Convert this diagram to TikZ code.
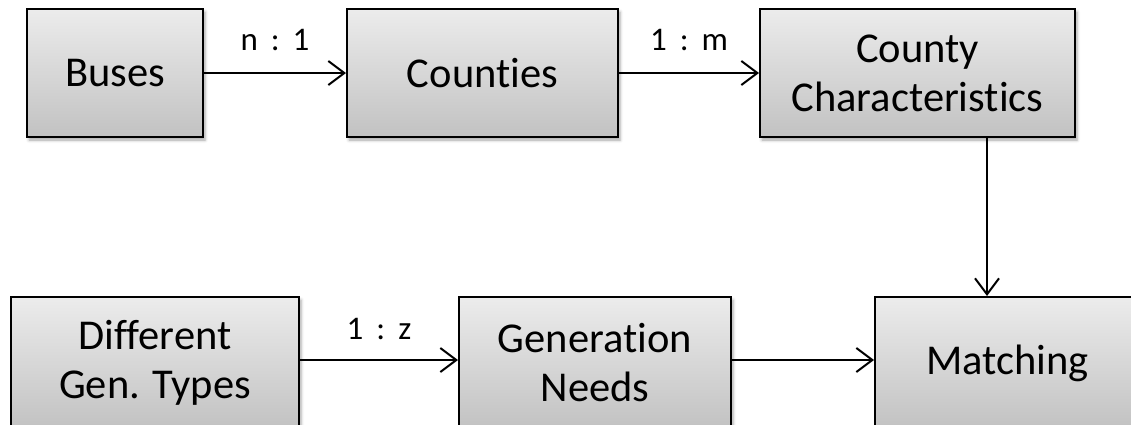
\documentclass[tikz,border=0pt]{standalone}
\usepackage{fontspec}
\setmainfont{Carlito}[Ligatures={NoCommon}]
\usetikzlibrary{arrows.meta,shadows.blur}
\newcommand{\ratio}[2]{#1\hspace{13pt}:\hspace{13pt}#2}
\tikzset{
  box/.style={draw=black, line width=2pt, top color=gray!15, bottom color=gray!48,
    blur shadow={shadow xshift=2pt, shadow yshift=-3pt, shadow blur radius=3pt, shadow opacity=35},
    font=\fontsize{42.5}{49}\selectfont, align=center, inner sep=0pt},
  conn/.style={line width=2pt, -{Straight Barb[length=16pt, width=24pt, line width=2pt]}},
  lbl/.style={font=\fontsize{33}{36}\selectfont, inner sep=0pt}
}
\begin{document}
\begin{tikzpicture}[x=1pt,y=-1pt]
\useasboundingbox (0,0) rectangle (1131,424);
\clip (0,0) rectangle (1131,424);
\node[box, minimum width=176pt, minimum height=128pt] (buses) at (115,73) {Buses};
\node[box, minimum width=271pt, minimum height=128pt] (counties) at (482.5,73) {Counties};
\node[box, minimum width=315pt, minimum height=128pt] (cc) at (917.5,73) {County\\Characteristics};
\node[box, minimum width=288pt, minimum height=132pt] (diff) at (155,363) {Different\\Gen. Types};
\node[box, minimum width=272pt, minimum height=132pt] (gen) at (595,363) {Generation\\Needs};
\node[box, minimum width=265pt, minimum height=132pt] (match) at (1007.5,363) {Matching};
\draw[conn] (buses) -- (counties) node[lbl, midway, above=21pt] {\ratio{n}{1}};
\draw[conn] (counties) -- (cc) node[lbl, midway, above=21pt] {\ratio{1}{m}};
\draw[conn] (diff.east |- 0,360) -- (gen.west |- 0,360) node[lbl, midway, above=19pt] {\ratio{1}{z}};
\draw[conn] (gen.east |- 0,360) -- (match.west |- 0,360);
\coordinate (vtop) at (987,137);
\coordinate (vbot) at (987,297);
\draw[conn] (cc.south -| vtop) -- (match.north -| vbot);
\end{tikzpicture}
\end{document}
